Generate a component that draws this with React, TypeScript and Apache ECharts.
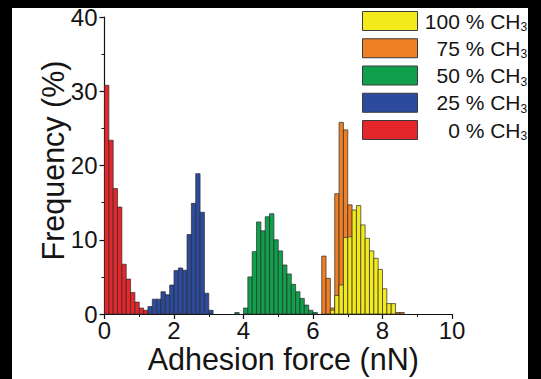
import React, { useEffect, useRef } from "react";
import * as echarts from "echarts";

// Histogram bin width (nN)
const BIN_WIDTH = 0.125;

const xTicks = { min: 0, max: 10, interval: 2 };
const yTicks = { min: 0, max: 40, interval: 10 };

const legendOrder = ["100 % CH3", "75 % CH3", "50 % CH3", "25 % CH3", "0 % CH3"];

// 0 % CH3 (red)
const redStart = 0;
const redValues = [30.8, 23.4, 16.9, 14.4, 6.7, 4.7, 2.9, 1.6, 0.8, 0.5];

// 25 % CH3 (blue)
const blueStart = 1.25;
const blueValues = [1.0, 2.0, 2.0, 3.0, 2.6, 3.9, 5.85, 6.2, 5.9, 10.7, 14.9, 18.9, 13.7, 2.8, 0.5];

// 50 % CH3 (green)
const greenStart = 3.75;
const greenValues = [0.2, 0, 0.8, 5.0, 8.4, 12.4, 11.2, 13.1, 13.5, 10.0, 8.5, 6.6, 5.4, 4.0, 3.0, 2.1, 1.2, 0.5, 0.2];

// 75 % CH3 (orange)
const orangeStart = 6.25;
const orangeValues = [7.8, 4.8, 0.8, 16.2, 25.8, 24.8, 14.7, 3.0, 1.5, 0.5, 0, 0, 0, 0, 0, 0, 0, 0.2, 0.2];

// 100 % CH3 (yellow)
const yellowStart = 6.5;
const yellowValues = [0.5, 2.5, 3.9, 10.3, 10.4, 14.0, 14.6, 12.0, 10.2, 8.5, 7.5, 6.0, 3.4, 1.4, 1.4];

const FONT = "'Liberation Sans', Arial, Helvetica, sans-serif";
const INK = "#141414";

function makeSeries(name: string, start: number, values: number[], color: string) {
  return {
    type: "custom",
    name,
    itemStyle: { color },
    encode: { x: 0, y: 1 },
    data: values.map((v, i) => [start + i * BIN_WIDTH, v]),
    renderItem: (params: any, api: any) => {
      const x0 = api.value(0);
      const v = api.value(1);
      if (!(v > 0)) return null;
      const p0 = api.coord([x0, v]);
      const p1 = api.coord([x0 + BIN_WIDTH, 0]);
      return {
        type: "rect",
        shape: { x: p0[0], y: p0[1], width: p1[0] - p0[0], height: p1[1] - p0[1] },
        style: { fill: color, stroke: "#2b2b2b", lineWidth: 0.7 },
      };
    },
  };
}

export default function App() {
  const ref = useRef<HTMLDivElement>(null);

  useEffect(() => {
    if (!ref.current) return;
    const chart = echarts.init(ref.current, undefined, { renderer: "svg" });
    const axisCommon = {
      type: "value",
      nameLocation: "middle",
      nameMoveOverlap: false,
      nameTextStyle: { fontSize: 30.5, color: INK, fontFamily: FONT },
      axisLine: { show: true, onZero: false, lineStyle: { color: INK, width: 1.2 } },
      axisTick: { show: true, inside: false, length: 5, lineStyle: { color: INK, width: 1.2 } },
      minorTick: { show: true, splitNumber: 2, length: 3, lineStyle: { color: INK, width: 1 } },
      axisLabel: { fontSize: 24, color: INK, fontFamily: FONT },
      splitLine: { show: false },
      minorSplitLine: { show: false },
    };
    chart.setOption({
      animation: false,
      backgroundColor: "transparent",
      grid: { left: 104.5, right: 89, top: 17, bottom: 60 },
      legend: {
        data: legendOrder,
        orient: "vertical",
        left: 357,
        top: 5.5,
        padding: 5,
        itemWidth: 55,
        itemHeight: 19,
        itemGap: 4.75,
        icon: "rect",
        selectedMode: false,
        itemStyle: { borderColor: "#3a3a3a", borderWidth: 1 },
        formatter: (name: string) => `{a|${name.replace("CH3", "CH")}}{s|3}`,
        textStyle: {
          rich: {
            a: { fontSize: 21, lineHeight: 24, width: 98, align: "right", color: INK, fontFamily: FONT },
            s: { fontSize: 12, lineHeight: 12, align: "right", verticalAlign: "bottom", color: INK, fontFamily: FONT },
          },
        },
      },
      xAxis: {
        ...axisCommon,
        ...xTicks,
        name: "Adhesion force (nN)",
        nameGap: 29,
        nameTextStyle: { ...axisCommon.nameTextStyle, padding: [0, 0, 0, 10] },
        axisLabel: { ...axisCommon.axisLabel, margin: 4.5 },
      },
      yAxis: {
        ...axisCommon,
        ...yTicks,
        name: "Frequency (%)",
        nameGap: 36,
        nameTextStyle: { ...axisCommon.nameTextStyle, padding: [0, 0, 0, 10] },
        axisLabel: { ...axisCommon.axisLabel, margin: 7 },
      },
      series: [
        makeSeries("0 % CH3", redStart, redValues, "#e5262b"),
        makeSeries("25 % CH3", blueStart, blueValues, "#2c4b9f"),
        makeSeries("50 % CH3", greenStart, greenValues, "#10a04b"),
        makeSeries("75 % CH3", orangeStart, orangeValues, "#ef7f25"),
        makeSeries("100 % CH3", yellowStart, yellowValues, "#f2ea1c"),
      ],
    });
    return () => chart.dispose();
  }, []);

  return (
    <div style={{ position: "absolute", left: 0, top: 0, width: 541, height: 379, background: "#000", overflow: "hidden" }}>
      <div style={{ position: "absolute", left: 12, top: 8, width: 516, height: 371, background: "#fff" }} />
      <div ref={ref} style={{ position: "absolute", left: 0, top: 0, width: 541, height: 379 }} />
    </div>
  );
}
